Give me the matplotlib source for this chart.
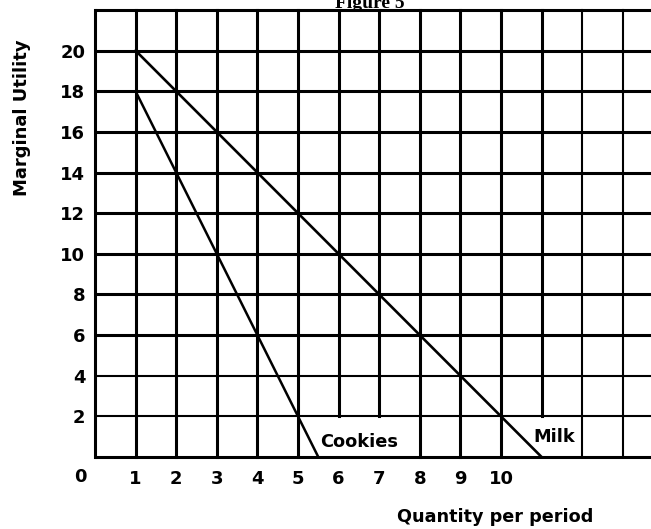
import matplotlib
matplotlib.use("Agg")
import matplotlib.pyplot as plt

# Data
milk_x = [1, 2, 3, 4, 5, 6, 7, 8, 9, 10, 11]
milk_y = [20, 18, 16, 14, 12, 10, 8, 6, 4, 2, 0]
cookies_x = [1, 2, 3, 4, 5, 5.5]
cookies_y = [18, 14, 10, 6, 2, 0]
x_ticks = [1, 2, 3, 4, 5, 6, 7, 8, 9, 10]
y_ticks = [2, 4, 6, 8, 10, 12, 14, 16, 18, 20]
grid_x = list(range(0, 14))
grid_y = list(range(0, 23, 2))
short_x = [6, 7, 11]      # vertical lines that stop at y=2 (labels)
thin_x = [12, 13]
thin_y = [2, 4]

W, H = 651, 529
fig = plt.figure(figsize=(W / 100, H / 100), dpi=100)
left, right_px, top_px, bottom_px = 95, 651, 10, 457
ax = fig.add_axes([left / W, (H - bottom_px) / H, (right_px - left) / W, (bottom_px - top_px) / H])
unit_x = 40.6
ax.set_xlim(0, (right_px - left) / unit_x)
ax.set_ylim(0, 22)
for s in ax.spines.values():
    s.set_visible(False)

thick, thin = 2.2, 1.5
for gx in grid_x:
    lw = thin if gx in thin_x else thick
    y0 = 2 if gx in short_x else 0
    ax.plot([gx, gx], [y0, 22], color='black', lw=lw, clip_on=False, solid_capstyle='projecting', zorder=1)
for gy in grid_y:
    lw = thin if gy in thin_y else thick
    ax.plot([0, ax.get_xlim()[1]], [gy, gy], color='black', lw=lw, clip_on=False, solid_capstyle='butt', zorder=1)

ax.plot(milk_x, milk_y, color='black', lw=1.9, zorder=2)
ax.plot(cookies_x, cookies_y, color='black', lw=1.8, zorder=2)

fs = 12.8
ax.text(5.54, 0.75, 'Cookies', fontsize=fs, fontweight='bold', ha='left', va='center', family='DejaVu Sans')
ax.text(10.79, 0.99, 'Milk', fontsize=fs, fontweight='bold', ha='left', va='center', family='DejaVu Sans')

ax.set_xticks(x_ticks)
ax.set_xticklabels([str(v) for v in x_ticks], fontsize=13, fontweight='bold')
ax.set_yticks(y_ticks)
ax.set_yticklabels([str(v) for v in y_ticks], fontsize=13, fontweight='bold')
ax.tick_params(axis='both', length=0)
ax.tick_params(axis='x', pad=9)
ax.tick_params(axis='y', pad=7)

fig.text(80 / W, 1 - 477 / H, '0', fontsize=13, fontweight='bold', ha='center', va='center')
fig.text(22 / W, 1 - 118 / H, 'Marginal Utility', fontsize=13, fontweight='bold', rotation=90, ha='center', va='center')
fig.text(495 / W, 1 - 517 / H, 'Quantity per period', fontsize=12.7, fontweight='bold', ha='center', va='center')
fig.text(370 / W, 1 - 8 / H, 'Figure 5', fontsize=14, fontweight='bold', family='Liberation Serif', ha='center', va='baseline')

fig.savefig('out.png', dpi=100)
